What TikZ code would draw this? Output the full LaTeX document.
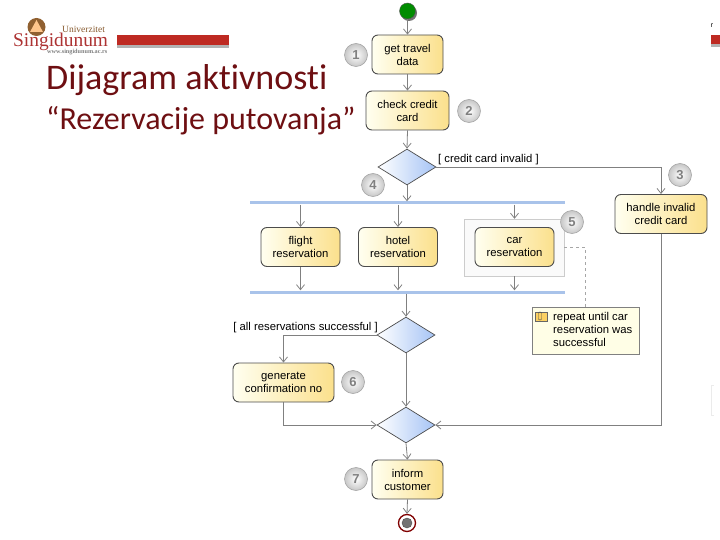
\documentclass[tikz,border=0pt]{standalone}
\usepackage{fontspec}
\setmainfont{Liberation Sans}
\newfontfamily\ttlfont[Ligatures=NoCommon]{Carlito}
\newfontfamily\lgofont{Liberation Serif}
\usetikzlibrary{arrows.meta,positioning,shapes.geometric,calc}
\definecolor{wirec}{HTML}{808080}
\definecolor{ttlc}{HTML}{6E0F12}
\definecolor{barc}{HTML}{A9C3EA}
\definecolor{stripc}{HTML}{BE2A22}
\definecolor{actr}{HTML}{FBE08C}
\definecolor{actl}{HTML}{FFFFF0}
\definecolor{decr}{HTML}{A6C4F5}
\tikzset{act/.style={draw=black!70,line width=.9pt,rounded corners=6pt,left color=actl,right color=actr,
  minimum height=39pt,inner sep=0pt,align=center,txt},
 dec/.style={diamond,draw=black!70,line width=.7pt,left color=white,right color=decr,minimum width=58pt,minimum height=36pt,aspect=1.6,inner sep=0pt},
 bar/.style={fill=barc,minimum width=315pt,minimum height=3pt,inner sep=0pt},
 num/.style={circle,draw=black!35,line width=.6pt,inner color=white,outer color=black!22,minimum size=23pt,inner sep=0pt,text=black!50,font=\fontsize{13}{13}\selectfont\bfseries},
 flow/.style={-{Straight Barb[length=5pt,width=8pt]},draw=wirec,line width=.8pt},
 txt/.style={font=\fontsize{11.3}{13}\selectfont},
 ttl/.style={anchor=base west,text=ttlc,inner sep=0pt}}
\begin{document}
\begin{tikzpicture}[x=1pt,y=-1pt]
\useasboundingbox (0,0) rectangle (720,540);
% logo and header strip
\fill[black!30] (117,38) rectangle (229,48.5);\fill[stripc] (117,35) rectangle (229,45);
\fill[black!30] (711,38) rectangle (720,47.5);\fill[stripc] (711,35) rectangle (720,44);
\node[font=\fontsize{7}{7}\selectfont,inner sep=0pt] (frag) at (712,26){r};
\fill[brown!75!black] (36.5,27) circle (9);\fill[orange!45!white] (36.5,20) -- (43,32) -- (30,32) -- cycle;
\node[anchor=base west,inner sep=0pt,text=red!60!black!80,font=\lgofont\fontsize{19.4}{20}\selectfont] (logo) at (13,47){Singidunum};
\node[anchor=base west,inner sep=0pt,text=brown!70!black,font=\lgofont\fontsize{9.5}{10}\selectfont] (logoa) at (62,32.5){Univerzitet};
\node[anchor=base west,inner sep=0pt,text=black!50,font=\lgofont\bfseries\fontsize{6.2}{6}\selectfont] (logob) at (47,54){www.singidunum.ac.rs};
\draw[draw=black!8] (714,385) -- (711,385) -- (711,415) -- (714,415);
% title
\node[ttl,font=\ttlfont\fontsize{36}{36}\selectfont] (title) at (46,90){Dijagram aktivnosti};
\node[ttl,font=\ttlfont\fontsize{32}{32}\selectfont] (subt) at (46,130){“Rezervacije putovanja”};
% nodes
\node[circle,fill=black!55,minimum size=16pt,inner sep=0pt] (starts) at (409,13){};
\node[circle,draw=black!65,fill=green!55!black,minimum size=16pt,inner sep=0pt] (start) at (407.5,11){};
\node[act,minimum width=71pt] (travel) at (407.5,54.5){get travel\\data};
\node[act,minimum width=83pt] (check) at (407.5,110.5){check credit\\card};
\node[dec] (d1) at (407,167){};
\node[act,minimum width=92pt] (handle) at (661,214){handle invalid\\credit card};
\node[bar] (b1) at (407.5,203){};
\node[bar] (b2) at (407.5,292){};
\node[draw=black!20,fill=black!2,minimum width=100pt,minimum height=57pt,inner sep=0pt] (wrap) at (514,247.5){};
\node[act,minimum width=79pt] (flight) at (300.5,247){flight\\reservation};
\node[act,minimum width=79pt] (hotel) at (398,247){hotel\\reservation};
\node[act,minimum width=79pt] (car) at (514.5,247){car\\reservation};
\node[dec] (d2) at (406,335){};
\node[act,minimum width=101pt] (confirm) at (283.5,382.5){generate\\confirmation no};
\node[dec] (d3) at (406,425){};
\node[act,minimum width=71pt] (inform) at (407.5,479.5){inform\\customer};
\node[circle,draw=red!50!black,line width=1.3pt,fill=white,minimum size=17pt,inner sep=0pt] (stop) at (407,523){};
\node[circle,draw=black!70,fill=black!55,minimum size=10pt,inner sep=0pt] (stopc) at (407,523){};
\node[draw=black!50,fill=yellow!10,minimum width=107pt,minimum height=47pt,inner sep=0pt] (note) at (585.5,330.5){};
\node[anchor=north west,align=left,inner sep=0pt,font=\fontsize{11.3}{12.6}\selectfont] (notet) at (553,312.5){repeat until car\\reservation was\\successful};
\node[draw=black!60,fill=yellow!45!orange!60,minimum width=12pt,minimum height=9pt,inner sep=0pt] (clip) at (541,317){};
\node[draw=black!70,rounded corners=1pt,minimum width=3pt,minimum height=8pt,inner sep=0pt] (clipb) at (540,316){};
% badges
\foreach \n/\x/\y in {1/356/55,2/469/111,3/680/175,4/373/185,5/572/222,6/353/382,7/356/479}{
 \node[num] (n\n) at (\x,\y){\n};}
% connectors
\draw[flow] (start)--(travel);
\draw[flow] (travel)--(check);
\draw[flow] (check.south)--(d1.north);
\draw[flow] (d1.south)--(d1.south|-b1.north);
\draw[flow] (d1.east)-|(handle.north);
\foreach \a in {flight,hotel}{
 \draw[flow] (\a.north|-b1.south)--(\a.north);
 \draw[flow] (\a.south)--(\a.south|-b2.north);}
\draw[flow] (car.north|-b1.south)--(car.north|-wrap.north);
\draw[flow] (car.south|-wrap.south)--(car.south|-b2.north);
\draw[flow] (d2.north|-b2.south)--(d2.north);
\draw[flow] (d2.west)-|(confirm.north);
\draw[flow] (d2.south)--(d3.north);
\draw[flow] (confirm.south)|-(d3.west);
\draw[flow] (handle.south)|-(d3.east);
\draw[flow] (d3.south)--(inform.north);
\draw[flow] (inform.south)--(stop.north);
\draw[draw=black!35,dashed] (wrap.east)-|(note.north);
% guards
\node[txt,anchor=base west,inner sep=0pt] (g1) at (438,163){[ credit card invalid ]};
\node[txt,anchor=base east,inner sep=0pt] (g2) at (378,330){[ all reservations successful ]};
\end{tikzpicture}
\end{document}
